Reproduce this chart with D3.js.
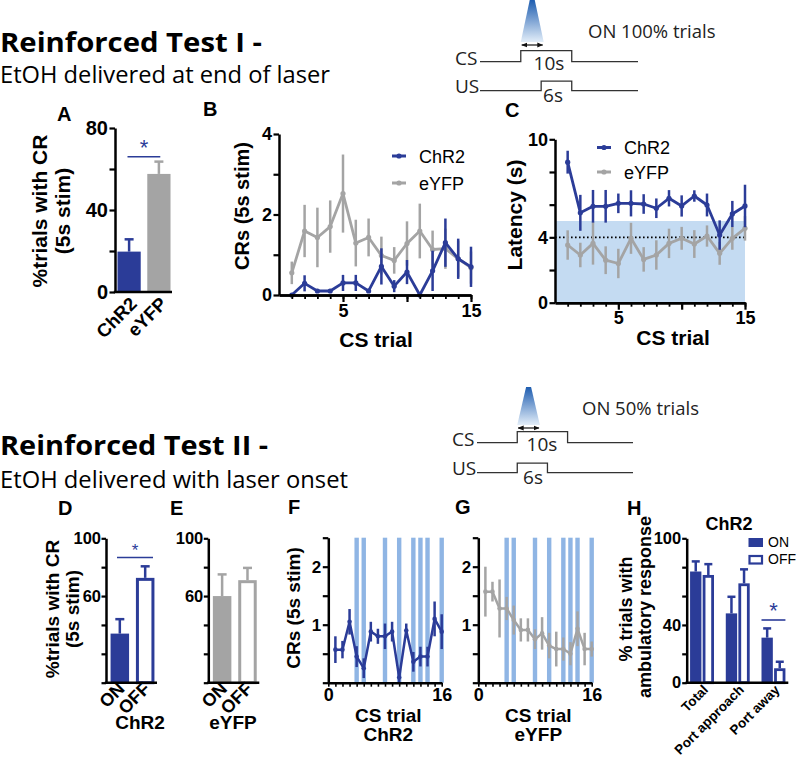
<!DOCTYPE html>
<html><head><meta charset="utf-8">
<script src="https://cdn.jsdelivr.net/npm/d3@7"></script>
<style>
body{margin:0;background:#fff}
svg{display:block}
</style></head><body>
<svg id="fig" width="800" height="761"></svg>
<script>
// ---------------- DATA ----------------
const aGroups = ["ChR2", "eYFP"];
const aMeans = [19.7, 57.6];
const aSem = [6, 6];
const aTicks = [0, 20, 40, 60, 80];
const aTickLabels = [0, 40, 80];

const trials15 = [1,2,3,4,5,6,7,8,9,10,11,12,13,14,15];
const minorTicks15 = [1,2,3,4,5,6,7,8,9,10,11,12,13,14,15];
const majorTicks15 = [5, 10, 15];
const labelTicks15 = [5, 15];

const bChR2 = [0, 0.29, 0.1, 0.1, 0.3, 0.3, 0.1, 0.71, 0.22, 0.57, 0, 0.6, 1.3, 0.9, 0.7];
const bChR2Sem = [0, 0.2, 0.05, 0.05, 0.2, 0.2, 0.05, 0.45, 0.15, 0.3, 0, 0.5, 0.6, 0.5, 0.5];
const bEYFP = [0.55, 1.59, 1.43, 1.7, 2.52, 1.29, 1.43, 0.98, 0.86, 1.28, 1.59, 1.13, 1.15, 0.9, 0.68];
const bEYFPSem = [0.28, 0.65, 0.74, 0.65, 0.97, 0.58, 0.47, 0.47, 0.33, 0.55, 0.68, 0.47, 0.5, 0.45, 0.4];
const bYTicks = [0, 1, 2, 3, 4];
const bYLabels = [0, 2, 4];

const cChR2 = [8.6, 5.5, 5.9, 5.9, 6.08, 6.08, 6.04, 5.78, 6.39, 5.92, 6.53, 5.98, 4.14, 5.43, 5.92];
const cChR2Sem = [0.7, 1.1, 1.0, 1.0, 0.6, 0.8, 0.6, 0.6, 0.5, 0.65, 0.35, 0.7, 0.9, 0.8, 1.3];
const cEYFP = [3.53, 2.92, 3.63, 2.6, 2.4, 3.94, 2.65, 2.92, 3.63, 3.94, 3.59, 4.08, 3.02, 3.94, 4.55];
const cEYFPSem = [0.9, 0.75, 1.3, 0.85, 0.9, 0.95, 0.75, 0.9, 0.9, 0.7, 0.85, 0.65, 0.7, 0.7, 0.75];
const cYTicks = [0, 2, 4, 6, 8, 10];
const cYLabels = [0, 4, 10];
const cShadeTop = 5;
const cRefLine = 4;

const dGroups = ["ON", "OFF"];
const dMeans = [34, 72.6];
const dSem = [10, 8];
const eMeans = [60, 71];
const eSem = [15, 8.5];
const deTicks = [0, 20, 40, 60, 80, 100];
const deTickLabels = [60, 100];

const trials16 = [1,2,3,4,5,6,7,8,9,10,11,12,13,14,15,16];
const ticks16 = [0,1,2,3,4,5,6,7,8,9,10,11,12,13,14,15,16];
const labelTicks16 = [0, 16];
const laserOnTrials = [4, 5, 8, 10, 12, 13, 14, 16];
const fChR2 = [0.57, 0.57, 1.05, 0.45, 0.25, 0.88, 0.8, 0.8, 0.88, 0.09, 0.9, 0.36, 0.45, 0.45, 1.1, 0.88];
const fChR2Sem = [0.23, 0.15, 0.22, 0.18, 0.17, 0.17, 0.13, 0.22, 0.17, 0.08, 0.12, 0.17, 0.17, 0.17, 0.3, 0.3];
const gEYFP = [1.57, 1.57, 1.28, 1.28, 1.08, 0.91, 0.91, 0.75, 0.85, 0.64, 0.58, 0.58, 0.5, 0.93, 0.58, 0.58];
const gEYFPSem = [0.43, 0.17, 0.5, 0.2, 0.25, 0.2, 0.2, 0.17, 0.28, 0.22, 0.3, 0.2, 0.2, 0.3, 0.28, 0.13];
const fgYTicks = [0, 0.5, 1, 1.5, 2, 2.5];
const fgYLabels = [1, 2];

const hCategories = ["Total", "Port approach", "Port away"];
const hConditions = ["ON", "OFF"];
const hOn = [77, 48, 31.2];
const hOnSem = [7, 11.5, 6.4];
const hOff = [74.6, 68.8, 10];
const hOffSem = [7.5, 9.7, 4.5];
const hTicks = [0, 20, 40, 60, 80, 100];
const hTickLabels = [0, 40, 100];

// schematic timing (s)
const csTiming = [[-8, 0], [0, 0], [0, 1], [10, 1], [10, 0], [23, 0]];
const usTimingI = [[-8, 0], [4, 0], [4, 1], [10, 1], [10, 0], [23, 0]];
const usTimingII = [[-8, 0], [0, 0], [0, 1], [6, 1], [6, 0], [23, 0]];
const laserDur = 4.5;

// ---------------- STYLE ----------------
const BLUE = "#2b3c98";
const GRAY = "#a4a4a4";
const STRIPE = "#8fb5e4";
const SHADE = "#c4dbf2";
const AF = "'Liberation Sans', Arial, sans-serif";
const HF = "'Open Sans', 'Liberation Sans', sans-serif";

const svg = d3.select("#fig");
svg.append("rect").attr("width", 800).attr("height", 761).attr("fill", "#fff");

function txt(x, y, s, opt = {}) {
  const t = svg.append("text").attr("x", x).attr("y", y).text(s)
    .attr("font-family", opt.ff || AF)
    .attr("font-size", opt.fs || 18)
    .attr("font-weight", opt.fw || "bold")
    .attr("fill", opt.fill || "#000")
    .attr("text-anchor", opt.anchor || "start");
  if (opt.rot) t.attr("transform", `rotate(${opt.rot},${x},${y})`);
  if (opt.len) t.attr("textLength", opt.len).attr("lengthAdjust", "spacingAndGlyphs");
  return t;
}

function styleAxis(g, fs = 18) {
  g.attr("font-family", AF).attr("font-size", fs).attr("font-weight", "bold");
  g.select(".domain").attr("stroke", "#000").attr("stroke-width", 2.5);
  g.selectAll(".tick line").attr("stroke", "#000").attr("stroke-width", 2.2);
  g.selectAll(".tick text").attr("fill", "#000");
}

function yAxis(x0, y, ticks, labels, fs = 18, size = 5.5, pad = 1.5) {
  const g = svg.append("g").attr("transform", `translate(${x0},0)`);
  g.call(d3.axisLeft(y).tickValues(ticks).tickSize(size).tickSizeOuter(0).tickPadding(pad)
    .tickFormat(d => labels.includes(d) ? d3.format("d")(d) : ""));
  styleAxis(g, fs);
  return g;
}

function xAxisLine(y0, x1, x2) {
  svg.append("line").attr("x1", x1 - 1.2).attr("x2", x2).attr("y1", y0).attr("y2", y0)
    .attr("stroke", "#000").attr("stroke-width", 2.5);
}

function xAxisTrials(x, y0, minor, major, labels, minorLen, majorLen) {
  const g1 = svg.append("g").attr("transform", `translate(0,${y0})`);
  g1.call(d3.axisBottom(x).tickValues(minor).tickSize(minorLen).tickSizeOuter(0).tickFormat(""));
  styleAxis(g1);
  g1.selectAll(".tick line").attr("stroke-width", 1.8);
  const g2 = svg.append("g").attr("transform", `translate(0,${y0})`);
  g2.call(d3.axisBottom(x).tickValues(major).tickSize(majorLen).tickSizeOuter(0).tickPadding(2)
    .tickFormat(d => labels.includes(d) ? d : ""));
  styleAxis(g2);
}

function errBars(g, xs, vals, sems, y, color, w = 2.5) {
  g.selectAll(null).data(xs).join("line")
    .attr("x1", d => d).attr("x2", d => d)
    .attr("y1", (d, i) => y(Math.max(0, vals[i] - sems[i])))
    .attr("y2", (d, i) => y(vals[i] + sems[i]))
    .attr("stroke", color).attr("stroke-width", w);
}

function series(g, x, y, trials, vals, sems, color, lw = 2.8, r = 2.6) {
  const xs = trials.map(t => x(t));
  errBars(g, xs, vals, sems, y, color);
  g.append("path").datum(trials)
    .attr("d", d3.line().x(t => x(t)).y((t, i) => y(vals[i])))
    .attr("fill", "none").attr("stroke", color).attr("stroke-width", lw).attr("stroke-linejoin", "round");
  g.selectAll(null).data(trials).join("circle")
    .attr("cx", t => x(t)).attr("cy", (t, i) => y(vals[i])).attr("r", r).attr("fill", color);
}

function capErr(g, cx, top, yTop, color, half = 4.5, w = 2.5) {
  g.append("line").attr("x1", cx).attr("x2", cx).attr("y1", top).attr("y2", yTop)
    .attr("stroke", color).attr("stroke-width", w);
  g.append("line").attr("x1", cx - half).attr("x2", cx + half).attr("y1", yTop).attr("y2", yTop)
    .attr("stroke", color).attr("stroke-width", w);
}

function legendItem(x, y, color, label, fs = 18) {
  svg.append("line").attr("x1", x).attr("x2", x + 14).attr("y1", y).attr("y2", y)
    .attr("stroke", color).attr("stroke-width", 3);
  svg.append("circle").attr("cx", x + 7).attr("cy", y).attr("r", 2.6).attr("fill", color);
  txt(x + 27, y + 6.5, label, { fs, fw: "normal" });
}

function rotLabel(x, y, s, fs) {
  txt(x, y, s, { fs, anchor: "end", rot: -45 });
}

// ---------------- HEADERS ----------------
txt(0, 52, "Reinforced Test I -", { ff: HF, fs: 26.5, fw: "bold", len: 262 });
txt(0, 83, "EtOH delivered at end of laser", { ff: HF, fs: 23.8, fw: "normal", len: 330 });
txt(0, 455, "Reinforced Test II -", { ff: HF, fs: 26.5, fw: "bold", len: 268 });
txt(0, 488, "EtOH delivered with laser onset", { ff: HF, fs: 23.8, fw: "normal", len: 348 });

// ---------------- SCHEMATICS ----------------
const defs = svg.append("defs");
const grad = defs.append("linearGradient").attr("id", "cone").attr("x1", 0).attr("x2", 0).attr("y1", 0).attr("y2", 1);
grad.append("stop").attr("offset", "0%").attr("stop-color", "#1e5db0");
grad.append("stop").attr("offset", "100%").attr("stop-color", "#e3eef9");
const mk = defs.append("marker").attr("id", "ah").attr("viewBox", "0 0 10 10").attr("refX", 9).attr("refY", 5)
  .attr("markerWidth", 5).attr("markerHeight", 5).attr("orient", "auto-start-reverse");
mk.append("path").attr("d", "M0,1 L10,5 L0,9 z").attr("fill", "#111");

function schematic(tScale, coneTop, coneBase, csBase, usBase, usTiming, onText, onX, onY, tenX, sixX) {
  const lc = tScale(laserDur / 2);
  const x0 = tScale(0), x1 = tScale(laserDur);
  svg.append("path")
    .attr("d", `M${lc - 2.5},${coneTop} L${lc + 2.5},${coneTop} L${x1},${coneBase} L${x0},${coneBase} Z`)
    .attr("fill", "url(#cone)");
  svg.append("line").attr("x1", x0 + 1).attr("x2", x1 - 1).attr("y1", coneBase + 3).attr("y2", coneBase + 3)
    .attr("stroke", "#111").attr("stroke-width", 1.2)
    .attr("marker-start", "url(#ah)").attr("marker-end", "url(#ah)");
  const ln = (base, h) => d3.line().x(d => tScale(d[0])).y(d => base - d[1] * h);
  svg.append("path").attr("d", ln(csBase, 11)(csTiming)).attr("fill", "none").attr("stroke", "#333").attr("stroke-width", 1.3);
  svg.append("path").attr("d", ln(usBase, 9.5)(usTiming)).attr("fill", "none").attr("stroke", "#333").attr("stroke-width", 1.3);
  const o = { ff: HF, fs: 19, fw: "normal", fill: "#222" };
  txt(tScale(-8) - 25, csBase + 3, "CS", o);
  txt(tScale(-8) - 25, usBase + 2.5, "US", o);
  txt(tenX, csBase + 8, "10s", { ...o, anchor: "middle" });
  txt(sixX, usBase + 11, "6s", { ...o, anchor: "middle" });
  txt(onX, onY, onText, { ...o, fs: 18.5 });
}
const tI = d3.scaleLinear().domain([-8, 23]).range([480, 638]);
schematic(tI, 0, 42, 61.7, 90.7, usTimingI, "ON 100% trials", 588, 38, 549, 553);
const tII = d3.scaleLinear().domain([-8, 23]).range([477, 633]);
schematic(tII, 387, 425, 442.7, 472.7, usTimingII, "ON 50% trials", 582, 415, 542, 533);

// ---------------- PANEL A ----------------
{
  const y = d3.scaleLinear().domain([0, 80]).range([292, 128]);
  const x = d3.scaleBand().domain(aGroups).range([116, 172]).paddingInner(0.22).paddingOuter(0.05);
  const g = svg.append("g");
  const cols = [BLUE, GRAY];
  aGroups.forEach((k, i) => {
    g.append("rect").attr("x", x(k)).attr("width", x.bandwidth()).attr("y", y(aMeans[i])).attr("height", y(0) - y(aMeans[i])).attr("fill", cols[i]);
    capErr(g, x(k) + x.bandwidth() / 2, y(aMeans[i]), y(aMeans[i] + aSem[i]), cols[i]);
    rotLabel(x(k) + x.bandwidth() / 2 + 9, y(0) + 13, k, 18.5);
  });
  yAxis(115, y, aTicks, aTickLabels, 20);
  xAxisLine(y(0), 115, 172);
  g.append("line").attr("x1", x("ChR2") + 10).attr("x2", x("eYFP") + 13).attr("y1", y(66)).attr("y2", y(66)).attr("stroke", BLUE).attr("stroke-width", 1.6);
  txt((x("ChR2") + x("eYFP") + x.bandwidth()) / 2, y(66) - 2, "*", { fill: BLUE, anchor: "middle", fs: 22, fw: "normal" });
  txt(57, 121, "A", { fs: 20 });
  txt(47, 211, "%trials with CR", { fs: 21, anchor: "middle", rot: -90 });
  txt(70, 211, "(5s stim)", { fs: 21, anchor: "middle", rot: -90 });
}

// ---------------- PANEL B ----------------
{
  const x = d3.scaleLinear().domain([0, 15]).range([279, 471]);
  const y = d3.scaleLinear().domain([0, 4]).range([295, 134]);
  const g = svg.append("g");
  series(g, x, y, trials15, bEYFP, bEYFPSem, GRAY);
  series(g, x, y, trials15, bChR2, bChR2Sem, BLUE);
  yAxis(x(0), y, bYTicks, bYLabels);
  xAxisTrials(x, y(0), minorTicks15, majorTicks15, labelTicks15, 4, 7);
  legendItem(392, 156, BLUE, "ChR2");
  legendItem(392, 183, GRAY, "eYFP");
  txt(203, 116, "B", { fs: 20 });
  txt(249, 206, "CRs (5s stim)", { fs: 20, anchor: "middle", rot: -90 });
  txt((x(0) + x(15)) / 2 + 1, 347, "CS trial", { fs: 21, anchor: "middle" });
}

// ---------------- PANEL C ----------------
{
  const x = d3.scaleLinear().domain([0, 15]).range([555, 745]);
  const y = d3.scaleLinear().domain([0, 10]).range([302.7, 139.3]);
  const g = svg.append("g");
  g.append("rect").attr("x", x(0)).attr("y", y(cShadeTop)).attr("width", x(15) - x(0)).attr("height", y(0) - y(cShadeTop)).attr("fill", SHADE);
  g.append("line").attr("x1", x(0)).attr("x2", x(15)).attr("y1", y(cRefLine)).attr("y2", y(cRefLine))
    .attr("stroke", "#000").attr("stroke-width", 1.8).attr("stroke-dasharray", "1.6,2.4");
  series(g, x, y, trials15, cEYFP, cEYFPSem, GRAY);
  series(g, x, y, trials15, cChR2, cChR2Sem, BLUE);
  yAxis(x(0), y, cYTicks, cYLabels);
  xAxisTrials(x, y(0), minorTicks15, majorTicks15, labelTicks15, 4, 7);
  legendItem(597, 147.5, BLUE, "ChR2");
  legendItem(597, 172, GRAY, "eYFP");
  txt(505, 117, "C", { fs: 20 });
  txt(522, 215, "Latency (s)", { fs: 21, anchor: "middle", rot: -90 });
  txt(673, 345, "CS trial", { fs: 21, anchor: "middle" });
}

// ---------------- PANELS D & E ----------------
function onOffPanel(x0, means, sems, color, letter, letterX, groupLabel, groupX) {
  const y = d3.scaleLinear().domain([0, 100]).range([682.7, 538.3]);
  const x = d3.scaleBand().domain(dGroups).range([x0, x0 + 53]).paddingInner(0.27).paddingOuter(0.18);
  const g = svg.append("g");
  const bw = x.bandwidth();
  g.append("rect").attr("x", x("ON")).attr("width", bw).attr("y", y(means[0])).attr("height", y(0) - y(means[0])).attr("fill", color);
  capErr(g, x("ON") + bw / 2, y(means[0]), y(means[0] + sems[0]), color);
  g.append("rect").attr("x", x("OFF") + 1.5).attr("width", bw - 3).attr("y", y(means[1]) + 1.5).attr("height", y(0) - y(means[1]) - 1.5)
    .attr("fill", "#fff").attr("stroke", color).attr("stroke-width", 3);
  capErr(g, x("OFF") + bw / 2, y(means[1]), y(means[1] + sems[1]), color);
  yAxis(x0, y, deTicks, deTickLabels, 16.5, 4.5, 0.5);
  xAxisLine(y(0), x0, x0 + 51);
  dGroups.forEach(k => rotLabel(x(k) + bw / 2 + 6, y(0) + 7, k, 18));
  txt(letterX, 515, letter, { fs: 20 });
  txt(groupX, 729, groupLabel, { fs: 19, anchor: "middle" });
  return { x, y };
}
{
  const p = onOffPanel(106, dMeans, dSem, BLUE, "D", 58, "ChR2", 140);
  svg.append("line").attr("x1", 117).attr("x2", 153).attr("y1", p.y(86.7)).attr("y2", p.y(86.7)).attr("stroke", BLUE).attr("stroke-width", 1.6);
  txt(135, p.y(86.7) - 2, "*", { fill: BLUE, anchor: "middle", fs: 17, fw: "normal" });
  txt(59, 609, "%trials with CR", { fs: 19, anchor: "middle", rot: -90 });
  txt(79, 609, "(5s stim)", { fs: 19, anchor: "middle", rot: -90 });
  onOffPanel(208.3, eMeans, eSem, GRAY, "E", 170, "eYFP", 233);
}

// ---------------- PANELS F & G ----------------
function trialPanel(x0, vals, sems, color, letter, letterX, yLabels, groupLabel) {
  const x = d3.scaleLinear().domain([0, 16]).range([x0, x0 + 113.4]);
  const y = d3.scaleLinear().domain([0, 2.5]).range([682.7, 537.7]);
  const g = svg.append("g");
  g.selectAll(null).data(laserOnTrials).join("rect")
    .attr("x", t => x(t) - 2.2).attr("width", 4.4).attr("y", y(2.5)).attr("height", y(0) - y(2.5)).attr("fill", STRIPE);
  series(g, x, y, trials16, vals, sems, color, 2.5, 2.3);
  yAxis(x0, y, fgYTicks, yLabels, 17);
  const gx = svg.append("g").attr("transform", `translate(0,${y(0)})`);
  gx.call(d3.axisBottom(x).tickValues(ticks16).tickSize(4).tickSizeOuter(0).tickPadding(2)
    .tickFormat(d => labelTicks16.includes(d) ? d : ""));
  styleAxis(gx);
  gx.selectAll(".tick line").attr("stroke-width", 1.6);
  txt(letterX, 514, letter, { fs: 20 });
  const cx = x0 + 60;
  txt(cx, 722, "CS trial", { fs: 19, anchor: "middle" });
  txt(cx, 741, groupLabel, { fs: 19, anchor: "middle" });
}
trialPanel(328.3, fChR2, fChR2Sem, BLUE, "F", 288, fgYLabels, "ChR2");
txt(300, 608, "CRs (5s stim)", { fs: 19, anchor: "middle", rot: -90 });
trialPanel(478.3, gEYFP, gEYFPSem, GRAY, "G", 455, fgYLabels, "eYFP");

// ---------------- PANEL H ----------------
{
  const y = d3.scaleLinear().domain([0, 100]).range([682.7, 538.3]);
  const x0 = d3.scaleBand().domain(hCategories).range([686.5, 789]).paddingInner(0.33).paddingOuter(0.1);
  const x1 = d3.scaleBand().domain(hConditions).range([0, x0.bandwidth()]).paddingInner(0.1);
  const g = svg.append("g");
  const bw = x1.bandwidth();
  hCategories.forEach((c, i) => {
    const xo = x0(c) + x1("ON"), xf = x0(c) + x1("OFF");
    g.append("rect").attr("x", xo).attr("width", bw).attr("y", y(hOn[i])).attr("height", y(0) - y(hOn[i])).attr("fill", BLUE);
    capErr(g, xo + bw / 2, y(hOn[i]), y(hOn[i] + hOnSem[i]), BLUE, 4, 2.5);
    g.append("rect").attr("x", xf + 1.4).attr("width", bw - 2.8).attr("y", y(hOff[i]) + 1.4).attr("height", y(0) - y(hOff[i]) - 1.4)
      .attr("fill", "#fff").attr("stroke", BLUE).attr("stroke-width", 2.8);
    capErr(g, xf + bw / 2, y(hOff[i]), y(hOff[i] + hOffSem[i]), BLUE, 4, 2.5);
    rotLabel(x0(c) + x0.bandwidth() / 2 + 7, y(0) + 8, c, 13.5);
  });
  yAxis(686.7, y, hTicks, hTickLabels, 16.5, 4.5, 1);
  xAxisLine(y(0), 686.7, 788.3);
  const pa = x0("Port away");
  g.append("line").attr("x1", pa).attr("x2", pa + x0.bandwidth()).attr("y1", 620).attr("y2", 620).attr("stroke", BLUE).attr("stroke-width", 1.6);
  txt(pa + x0.bandwidth() / 2, 618, "*", { fill: BLUE, anchor: "middle", fs: 22, fw: "normal" });
  txt(627, 515, "H", { fs: 20 });
  txt(729, 530, "ChR2", { fs: 18, anchor: "middle" });
  txt(632, 609, "% trials with", { fs: 18, anchor: "middle", rot: -90 });
  txt(651, 607, "ambulatory response", { fs: 18, anchor: "middle", rot: -90 });
  svg.append("rect").attr("x", 748.5).attr("y", 538).attr("width", 14.5).attr("height", 9).attr("fill", BLUE);
  svg.append("rect").attr("x", 749.5).attr("y", 556).attr("width", 12.5).attr("height", 7.5).attr("fill", "#fff").attr("stroke", BLUE).attr("stroke-width", 2.2);
  txt(768, 547, "ON", { fs: 14, fw: "normal" });
  txt(768, 564, "OFF", { fs: 14, fw: "normal" });
}
</script>
</body></html>
